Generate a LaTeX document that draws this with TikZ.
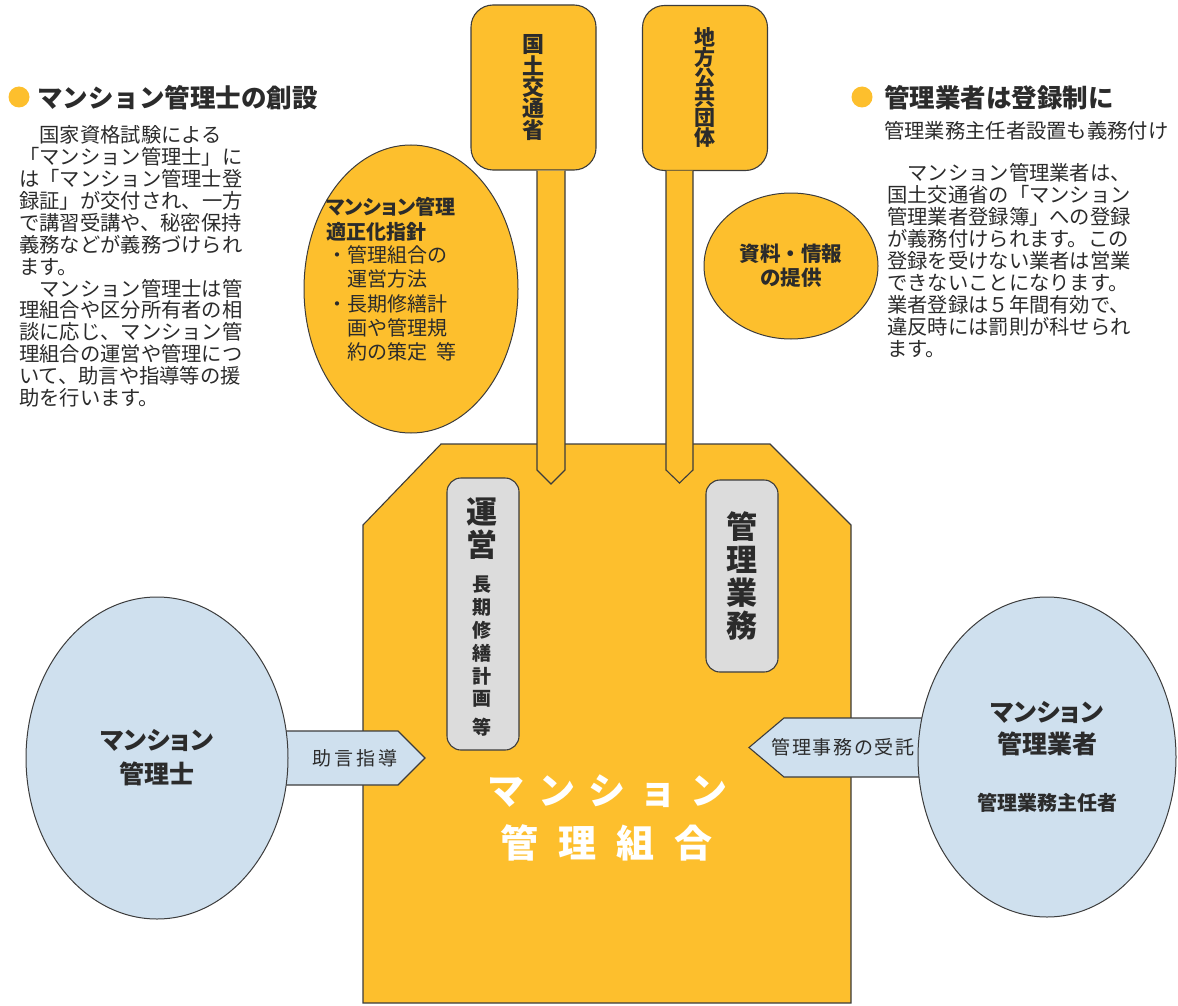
\documentclass[tikz,border=0pt]{standalone}
\usepackage{fontspec}
\setmainfont{Noto Sans CJK JP}
\newfontfamily\jpr{Noto Sans CJK JP}
\newfontfamily\jpp[RawFeature=+palt]{Noto Sans CJK JP}
\usetikzlibrary{shapes.geometric}
\definecolor{yel}{RGB}{253,191,45}
\definecolor{lblue}{RGB}{207,224,238}
\definecolor{gboxc}{RGB}{220,220,220}
\definecolor{lc}{RGB}{60,60,60}
\definecolor{tx}{RGB}{43,43,43}
\newcommand{\fs}[2]{\fontsize{#1pt}{#2pt}\selectfont}
\begin{document}
\begin{tikzpicture}[x=1pt,y=-1pt,
  ol/.style={draw=lc, line width=1.1pt},
  yshape/.style={ol, fill=yel},
  arshape/.style={ol, fill=lblue},
  topbox/.style={yshape, rounded corners=22pt, minimum width=125pt, minimum height=165pt, inner sep=0pt, align=center, text=tx},
  graybox/.style={ol, fill=gboxc, rounded corners=14pt, minimum width=72pt, inner sep=0pt, align=center, text=tx},
  yell/.style={ellipse, draw=lc, line width=1pt, fill=yel, inner sep=0pt},
  bell/.style={ellipse, draw=lc, line width=1pt, fill=lblue, inner sep=0pt},
  lbl/.style={inner sep=0pt, text=tx, align=left},
  dot/.style={circle, fill=yel, minimum size=21pt, inner sep=0pt}
]
\useasboundingbox (0,0) rectangle (1178,1006);

% headings
\node[dot] (d1) at (19,97) {};
\node[lbl, anchor=west, font=\jpr\bfseries\fs{25.5}{26}] (h1) at (37,98) {マンション管理士の創設};
\node[lbl, anchor=west, font=\jpr\fs{20.3}{21.9}] (body1) at (19,266.5) {　国家資格試験による\\「マンション管理士」に\\は「マンション管理士登\\録証」が交付され、一方\\で講習受講や、秘密保持\\義務などが義務づけられ\\ます。\\　マンション管理士は管\\理組合や区分所有者の相\\談に応じ、マンション管\\理組合の運営や管理につ\\いて、助言や指導等の援\\助を行います。};

\node[dot] (d2) at (862,97) {};
\node[lbl, anchor=west, font=\jpr\bfseries\fs{25.5}{26}] (h2) at (884,98) {管理業者は登録制に};
\node[lbl, anchor=west, font=\jpr\fs{20.3}{20}] (sub2) at (884,131) {管理業務主任者設置も義務付け};
\node[lbl, anchor=west, font=\jpr\fs{20.3}{21.9}] (body2) at (887,260.5) {　マンション管理業者は、\\国土交通省の「マンション\\管理業者登録簿」への登録\\が義務付けられます。この\\登録を受けない業者は営業\\できないことになります。\\業者登録は５年間有効で、\\違反時には罰則が科せられ\\ます。};

% ellipses and top boxes
\node[yell, minimum width=214pt, minimum height=288pt] (guide) at (411,289) {};
\node[lbl, anchor=west, font=\jpp\bfseries\fs{20}{25}] (guide1) at (326,219.5) {マンション管理\\適正化指針};
\node[lbl, anchor=west, font=\jpr\fs{20}{24.2}] (guide2) at (327,303.5) {・管理組合の\\　運営方法\\・長期修繕計\\　画や管理規\\　約の策定\hspace{9pt}等};

\node[yell, minimum width=174pt, minimum height=146pt, font=\jpr\bfseries\fs{20.5}{24}, align=center, text=tx] (info) at (791,266) {資料・情報\\の提供};

\node[topbox, font=\jpp\bfseries\fs{22}{21.4}] (moc) at (533.5,87.5) {国\\土\\交\\通\\省};
\node[topbox, font=\jpp\bfseries\fs{21}{20}] (local) at (705,88) {地\\方\\公\\共\\団\\体};

% main shape (管理組合)
\path[yshape] (441,444) -- (770,444) -- (851,525) -- (851,1003) -- (363,1003) -- (363,525) -- cycle;

% stems from top boxes
\path[yshape] (537,170.6) -- (537,470) -- (551,484) -- (565,470) -- (565,170.6);
\path[yshape] (666,170.6) -- (666,470) -- (679.5,483) -- (693,470) -- (693,170.6);

% gray boxes
\node[graybox, minimum height=272pt] (unei) at (483,614) {};
\node[lbl, align=center, font=\jpr\bfseries\fs{31}{33}] (unei1) at (482,528.5) {運\\営};
\node[lbl, align=center, font=\jpr\bfseries\fs{19}{22.8}] (unei2) at (482,642) {長\\期\\修\\繕\\計\\画};
\node[lbl, align=center, font=\jpr\bfseries\fs{19}{19}] (unei3) at (482,727) {等};
\node[graybox, minimum height=192pt, font=\jpr\bfseries\fs{31}{33}] (gyomu) at (742,576) {管\\理\\業\\務};

% title
\node[inner sep=0pt, text=white, font=\jpr\bfseries\fs{37}{37}] (title1) at (607.5,791.5) {\makebox[240pt][s]{マ\hfill ン\hfill シ\hfill ョ\hfill ン}};
\node[inner sep=0pt, text=white, font=\jpr\bfseries\fs{38}{38}] (title2) at (606.5,843) {\makebox[213pt][s]{管\hfill 理\hfill 組\hfill 合}};

% arrows
\path[arshape] (270,731) -- (398,731) -- (425,758) -- (398,785) -- (270,785) -- cycle;
\node[lbl, font=\jpr\fs{19}{19}] (jogen) at (355,758) {\makebox[86pt][s]{助\hfill 言\hfill 指\hfill 導}};
\path[arshape] (940,718) -- (784,718) -- (749,747.5) -- (784,777) -- (940,777) -- cycle;
\node[lbl, font=\jpr\fs{19}{19}] (jutaku) at (843,747.5) {\makebox[143pt][s]{管\hfill 理\hfill 事\hfill 務\hfill の\hfill 受\hfill 託}};

% blue ellipses
\node[bell, minimum width=262pt, minimum height=322pt, font=\jpp\bfseries\fs{25}{34}, align=center, text=tx] (shi) at (157,758) {マンション\\管理士};
\node[bell, minimum width=258pt, minimum height=320pt] (gyosha) at (1047,757) {};
\node[lbl, align=center, font=\jpp\bfseries\fs{25}{32}] (gyosha1) at (1047,729) {マンション\\管理業者};
\node[lbl, align=center, font=\jpr\bfseries\fs{20}{20}] (gyosha2) at (1047,803) {管理業務主任者};
\end{tikzpicture}
\end{document}
